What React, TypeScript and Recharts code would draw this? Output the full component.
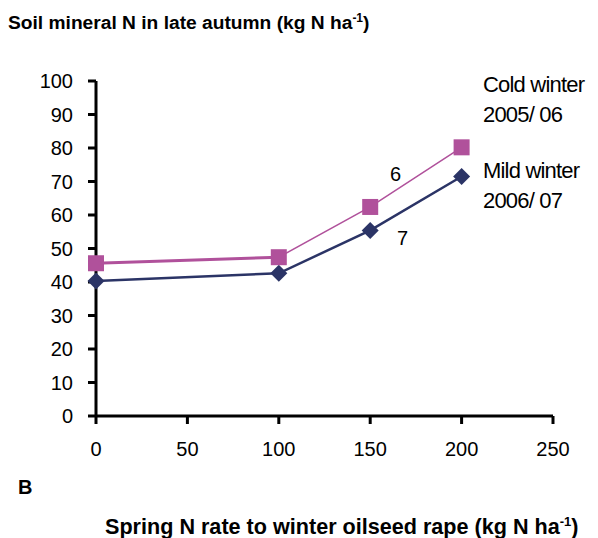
import { LineChart, Line, XAxis, YAxis } from 'recharts'

const nRates = [0, 100, 150, 200]
const coldWinter = [45.6, 47.4, 62.4, 80.2]
const mildWinter = [40.3, 42.6, 55.4, 71.5]
const xTicks = [0, 50, 100, 150, 200, 250]
const yTicks = [0, 10, 20, 30, 40, 50, 60, 70, 80, 90, 100]

const COLD = '#B0519B'
const MILD = '#2B3466'
const FONT = '"Liberation Sans", Arial, sans-serif'

// cold line is drawn heavier between 0 and 100, thin after
const data = nRates.map((rate, i) => ({
  rate,
  cold: coldWinter[i],
  coldLow: i <= 1 ? coldWinter[i] : null,
  coldHigh: i >= 1 ? coldWinter[i] : null,
  mild: mildWinter[i],
}))

const Square = (props: any) => {
  const { cx, cy } = props
  if (cx == null || cy == null) return null
  return <rect x={cx - 8} y={cy - 8} width={16} height={16} fill={COLD} />
}

const Diamond = (props: any) => {
  const { cx, cy } = props
  if (cx == null || cy == null) return null
  const r = 8.5
  return <path d={`M${cx},${cy - r}L${cx + r},${cy}L${cx},${cy + r}L${cx - r},${cy}Z`} fill={MILD} />
}

const abs = (left: number, top: number, extra: any = {}) => ({
  position: 'absolute' as const,
  left,
  top,
  fontFamily: FONT,
  color: '#000',
  whiteSpace: 'nowrap' as const,
  lineHeight: 1,
  ...extra,
})

export default function App() {
  const tickStyle = { fontSize: 20, fill: '#000', fontFamily: FONT }
  return (
    <div style={{ position: 'absolute', left: 0, top: 0, width: 598, height: 538, background: '#fff' }}>
      <LineChart
        width={598}
        height={538}
        data={data}
        margin={{ top: 81, right: 45, left: 0, bottom: 72 }}
      >
        <XAxis
          dataKey="rate"
          type="number"
          domain={[0, 250]}
          ticks={xTicks}
          height={50}
          axisLine={{ stroke: '#000', strokeWidth: 3 }}
          tickLine={{ stroke: '#000', strokeWidth: 3 }}
          tickSize={8}
          tickMargin={18}
          tick={tickStyle}
        />
        <YAxis
          type="number"
          domain={[0, 100]}
          ticks={yTicks}
          width={96}
          axisLine={{ stroke: '#000', strokeWidth: 3 }}
          tickLine={{ stroke: '#000', strokeWidth: 3 }}
          tickSize={8}
          tickMargin={15}
          tick={tickStyle}
        />
        <Line
          dataKey="coldLow"
          stroke={COLD}
          strokeWidth={3}
          dot={false}
          activeDot={false}
          connectNulls={false}
          isAnimationActive={false}
        />
        <Line
          dataKey="coldHigh"
          stroke={COLD}
          strokeWidth={1.5}
          dot={false}
          activeDot={false}
          connectNulls={false}
          isAnimationActive={false}
        />
        <Line
          dataKey="mild"
          stroke={MILD}
          strokeWidth={2.5}
          dot={<Diamond />}
          activeDot={false}
          isAnimationActive={false}
        />
        <Line
          dataKey="cold"
          stroke="none"
          dot={<Square />}
          activeDot={false}
          isAnimationActive={false}
        />
      </LineChart>

      <div style={abs(8, 12, { fontSize: 19.2, fontWeight: 'bold' })}>
        Soil mineral N in late autumn (kg N ha<sup style={{ fontSize: 12 }}>-1</sup>)
      </div>

      <div style={abs(483, 70, { fontSize: 22, letterSpacing: -0.8, lineHeight: '30px' })}>
        Cold winter
        <br />
        2005/ 06
      </div>
      <div style={abs(483, 156, { fontSize: 22, letterSpacing: -0.8, lineHeight: '30px' })}>
        Mild winter
        <br />
        2006/ 07
      </div>

      <div style={abs(390, 164, { fontSize: 20 })}>6</div>
      <div style={abs(397, 228, { fontSize: 20 })}>7</div>

      <div style={abs(18, 477, { fontSize: 20, fontWeight: 'bold' })}>B</div>
      <div style={abs(105, 515, { fontSize: 21.6, fontWeight: 'bold' })}>
        Spring N rate to winter oilseed rape (kg N ha<sup style={{ fontSize: 13 }}>-1</sup>)
      </div>
    </div>
  )
}
